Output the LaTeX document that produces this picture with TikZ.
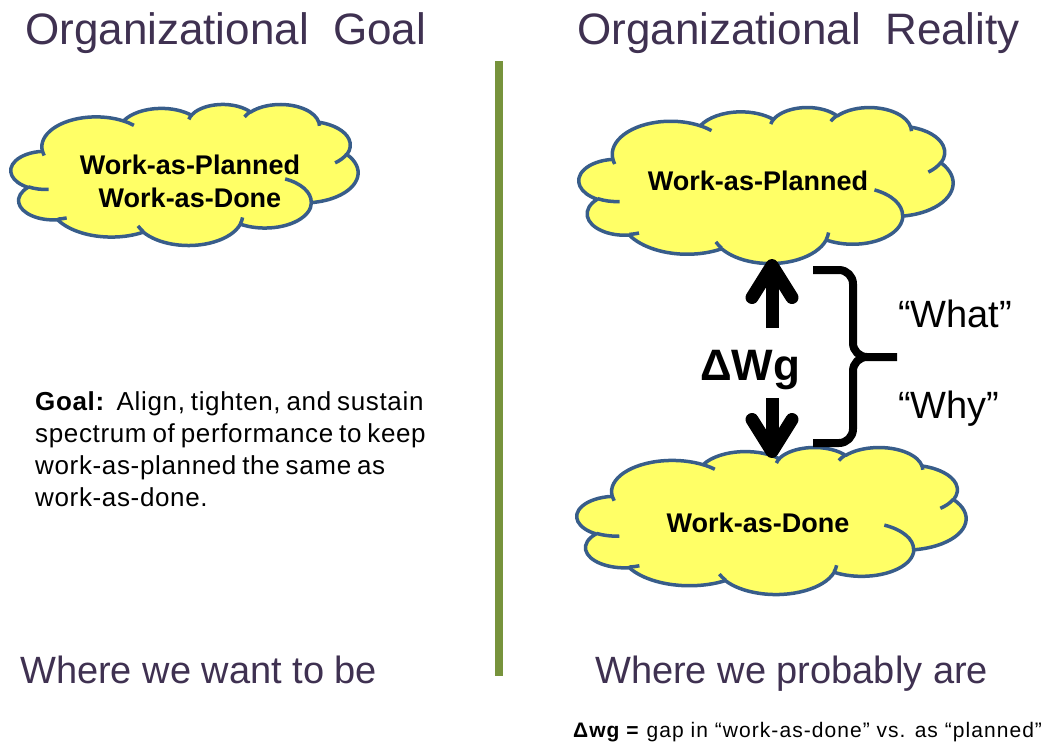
\documentclass[tikz,border=0pt]{standalone}
\usepackage{fontspec}
\setmainfont{Liberation Sans}
\newfontfamily\goalfont{Liberation Sans}[LetterSpace=2.5,WordSpace=0.75]
\newfontfamily\footfont{Liberation Sans}[LetterSpace=5]
\usetikzlibrary{arrows.meta,calc}
\definecolor{titlecol}{HTML}{3F3151}
\definecolor{cloudfill}{HTML}{FFFF66}
\definecolor{cloudline}{HTML}{385D8A}
\definecolor{divgreen}{HTML}{77933C}

% OOXML-style elliptical arc (visual angles converted to parametric)
\newcommand\ooarc[4]{arc[x radius=#1, y radius=#2, start angle={atan2((#1)*sin(#3),(#2)*cos(#3))}, delta angle={mod(atan2((#1)*sin((#3)+(#4)),(#2)*cos((#3)+(#4)))-atan2((#1)*sin(#3),(#2)*cos(#3))+720,360)}]}

% PowerPoint cloud in box: top-left (#1,#2), size #3 x #4
\newcommand\oocloud[4]{%
  \pgfmathsetmacro\cloudsx{#3/43.2}%
  \pgfmathsetmacro\cloudsy{#4/43.2}%
  \begin{scope}[shift={(#1,#2)}, x=\cloudsx pt, y=-\cloudsy pt]
    \filldraw[cloudshape] (3.9,14.37)
      \ooarc{6.753}{9.190}{-190.4875}{123.7805}
      \ooarc{5.333}{7.267}{-144.1024}{89.9452}
      \ooarc{4.365}{5.945}{-145.8079}{99.7230}
      \ooarc{4.857}{6.595}{-130.9861}{117.2417}
      \ooarc{5.333}{7.273}{-78.7089}{109.0269}
      \ooarc{6.775}{9.220}{-46.2673}{130.2690}
      \ooarc{5.785}{7.867}{0.6250}{114.0333}
      \ooarc{6.752}{9.215}{22.4516}{115.1726}
      \ooarc{7.720}{10.543}{66.2426}{75.7110}
      \ooarc{4.360}{5.918}{-274.9421}{146.7356}
      \ooarc{4.345}{5.945}{-246.8285}{152.5189} -- cycle;
    \draw[cloudshape, fill=none]
      (4.693,26.177) \ooarc{4.345}{5.945}{86.7420}{26.4295}
      (6.928,34.899) \ooarc{4.360}{5.918}{73.6105}{11.4475}
      (16.478,39.090) \ooarc{6.752}{9.215}{137.6242}{14.0811}
      (28.827,34.751) \ooarc{6.752}{9.215}{6.4533}{15.9984}
      (34.129,22.954) \ooarc{5.785}{7.867}{-70.2924}{70.9174}
      (41.798,15.354) \ooarc{5.333}{7.273}{30.3180}{27.7515}
      (38.324,5.426) \ooarc{4.857}{6.595}{-13.7443}{14.8589}
      (29.078,3.952) \ooarc{4.857}{6.595}{-149.1815}{18.1954}
      (22.141,4.720) \ooarc{4.365}{5.945}{-163.4943}{17.6864}
      (14.000,5.192) \ooarc{6.753}{9.190}{-66.7070}{12.3194}
      (4.127,15.789) \ooarc{6.753}{9.190}{157.6544}{11.8582};
  \end{scope}}

\begin{document}
\begin{tikzpicture}[x=1pt, y=-1pt,
  cloudshape/.style={draw=cloudline, fill=cloudfill, line width=3.5pt, line join=round},
  titletxt/.style={inner sep=0pt, text=titlecol, font=\fontsize{44}{50}\selectfont},
  subtxt/.style={inner sep=0pt, text=titlecol, font=\fontsize{38}{44}\selectfont},
  cloudtxt/.style={inner sep=0pt, text=black, font=\fontsize{27}{33}\selectfont\bfseries},
  dwgtxt/.style={inner sep=0pt, text=black, font=\fontsize{44}{50}\selectfont\bfseries},
  sidetxt/.style={inner sep=0pt, text=black, font=\fontsize{38}{44}\selectfont},
  goaltxt/.style={inner sep=0pt, text=black, align=left, font=\goalfont\fontsize{26}{32}\selectfont},
  foottxt/.style={inner sep=0pt, text=black, font=\footfont\fontsize{21}{25}\selectfont},
  divider/.style={draw=divgreen, line width=8pt},
  arr/.style={draw=black, line width=13pt, -{Straight Barb[length=32pt, width=40pt, round]}},
  bracesty/.style={draw=black, line width=8pt, line join=round}
]
\useasboundingbox (0,0) rectangle (1049,745);

% titles
\node[titletxt, anchor=base west] (tg) at (25,44) {Organizational\ \ Goal};
\node[titletxt, anchor=base west] (tr) at (577,44) {Organizational\ \ Reality};

% divider
\coordinate (dtop) at (499,61);
\coordinate (dbot) at (499,676);
\draw[divider] (dtop) -- (dbot);

% clouds
\oocloud{11}{104}{347}{141}
\oocloud{579}{107}{374}{156}
\oocloud{577}{447}{389}{147}

\node[cloudtxt, anchor=north, align=center] (lct) at (190,154.3) {Work-as-Planned\\Work-as-Done};
\node[cloudtxt, anchor=base] (wap) at (758,190) {Work-as-Planned};
\node[cloudtxt, anchor=base] (wad) at (758,532) {Work-as-Done};

% goal text
\node[goaltxt, anchor=north west] (goal) at (35,391) {\textbf{Goal:}\ \ Align, tighten, and sustain\\spectrum of performance to keep\\work-as-planned the same as\\work-as-done.};

% gap arrows
\node[dwgtxt, anchor=base west] (dwg) at (700,380) {ΔWg};
\coordinate (upS) at (772,328);
\coordinate (upE) at (772,259);
\coordinate (dnS) at (772,398);
\coordinate (dnE) at (772,458);
\draw[arr] (upS) -- (upE);
\draw[arr] (dnS) -- (dnE);

% brace
\draw[bracesty] (813,270) -- (839,270) to[out=0,in=90] (853,284) -- (853,343)
  to[out=-90,in=180] (867,357) -- (897,357)
  (867,357) to[out=180,in=90] (853,371) -- (853,429) to[out=-90,in=0] (839,443) -- (813,443);

\node[sidetxt, anchor=base west] (what) at (898,327) {“What”};
\node[sidetxt, anchor=base west] (why) at (898,418) {“Why”};

% bottom labels
\node[subtxt, anchor=base west] (wl) at (20,683) {Where we want to be};
\node[subtxt, anchor=base west] (wr) at (595,683) {Where we probably are};

\node[foottxt, anchor=base west] (fn) at (573,737) {\textbf{Δwg =} gap in “work-as-done” vs. as “planned”};
\end{tikzpicture}
\end{document}
